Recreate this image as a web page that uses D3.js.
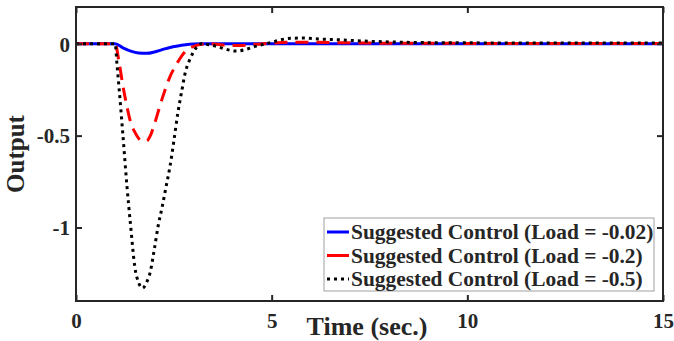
<!DOCTYPE html>
<html>
<head>
<meta charset="utf-8">
<script src="https://cdn.jsdelivr.net/npm/d3@7"></script>
<style>
  body { margin: 0; background: #fff; }
  svg text { font-family: "Liberation Serif", "Times New Roman", serif; font-weight: bold; fill: #262626; }
</style>
</head>
<body>
<div id="chart"></div>
<script>
// data
const tBlue = [0, 1.0, 1.2, 1.4, 1.6, 1.8, 2.0, 2.2, 2.4, 2.6, 2.8, 3.0, 3.2, 5, 10, 15];
const yBlue = [0, 0, -0.022, -0.04, -0.05, -0.052, -0.045, -0.032, -0.02, -0.012, -0.006, -0.002, 0, 0, 0, 0];

const tRed = [0, 1.0, 1.1, 1.2, 1.3, 1.4, 1.5, 1.6, 1.7, 1.8, 1.9, 2.0, 2.2, 2.4, 2.6, 2.8, 3.0, 3.2, 3.4, 3.6, 3.8, 4.0, 4.2, 4.4, 4.6, 4.8, 5.0, 5.5, 6.0, 7, 8, 10, 15];
const yRed = [0, 0, -0.1, -0.23, -0.34, -0.43, -0.48, -0.515, -0.53, -0.53, -0.5, -0.44, -0.3, -0.18, -0.1, -0.04, -0.015, -0.003, 0, -0.003, -0.008, -0.01, -0.01, -0.007, -0.003, 0, 0.003, 0.008, 0.008, 0.005, 0.003, 0.002, 0.001];

const tBlack = [0, 1.0, 1.05, 1.1, 1.2, 1.3, 1.4, 1.5, 1.6, 1.7, 1.8, 1.9, 2.0, 2.1, 2.2, 2.3, 2.4, 2.5, 2.6, 2.7, 2.8, 2.9, 3.0, 3.1, 3.2, 3.4, 3.6, 3.8, 4.1, 4.4, 4.6, 4.8, 5.0, 5.2, 5.5, 5.8, 6.2, 6.7, 7.2, 8, 9, 10, 12, 15];
const yBlack = [0, 0, -0.12, -0.24, -0.5, -0.77, -1.0, -1.21, -1.3, -1.33, -1.3, -1.24, -1.12, -0.99, -0.89, -0.78, -0.67, -0.53, -0.38, -0.26, -0.15, -0.09, -0.045, -0.015, 0, -0.005, -0.015, -0.028, -0.04, -0.027, -0.013, -0.003, 0.008, 0.02, 0.03, 0.031, 0.026, 0.022, 0.016, 0.01, 0.006, 0.005, 0.004, 0.004];

const xTicks = [0, 5, 10, 15];
const yTicks = [0, -0.5, -1];
const legendLabels = [
  "Suggested Control (Load = -0.02)",
  "Suggested Control (Load = -0.2)",
  "Suggested Control (Load = -0.5)"
];

const W = 674, H = 341;
const plot = { left: 76, right: 663, top: 7, bottom: 301 };
const axisColor = "#262626";

const svg = d3.select("#chart").append("svg")
  .attr("width", W)
  .attr("height", H);

const x = d3.scaleLinear().domain([0, 15]).range([plot.left, plot.right]);
const y = d3.scaleLinear().domain([-1.4, 0.2]).range([plot.bottom, plot.top]);

svg.append("clipPath").attr("id", "clip")
  .append("rect")
  .attr("x", plot.left).attr("y", plot.top)
  .attr("width", plot.right - plot.left).attr("height", plot.bottom - plot.top);

const line = d3.line()
  .x(d => x(d[0]))
  .y(d => y(d[1]))
  .curve(d3.curveMonotoneX);

const series = [
  { t: tBlue, v: yBlue, color: "#0000ff", dash: null },
  { t: tRed, v: yRed, color: "#ff0000", dash: "13,8" },
  { t: tBlack, v: yBlack, color: "#000000", dash: "3,4" }
];

const lines = svg.append("g").attr("clip-path", "url(#clip)");
series.forEach(s => {
  lines.append("path")
    .datum(s.t.map((t, i) => [t, s.v[i]]))
    .attr("fill", "none")
    .attr("stroke", s.color)
    .attr("stroke-width", 3)
    .attr("stroke-dasharray", s.dash)
    .attr("d", line);
});

// axes (box with inward ticks)
const tickLen = 6;
svg.append("g")
  .attr("transform", `translate(0,${plot.bottom})`)
  .call(d3.axisBottom(x).tickValues(xTicks).tickSizeInner(-tickLen).tickSizeOuter(0).tickFormat(d3.format("d")))
  .call(g => g.select(".domain").remove())
  .call(g => g.selectAll("line").attr("stroke", axisColor).attr("stroke-width", 2))
  .call(g => g.selectAll("text").attr("y", 27).attr("dy", 0).style("font-size", "21px").attr("fill", axisColor));

svg.append("g")
  .attr("transform", `translate(0,${plot.top})`)
  .call(d3.axisTop(x).tickValues(xTicks).tickSizeInner(-tickLen).tickSizeOuter(0).tickFormat(""))
  .call(g => g.select(".domain").remove())
  .call(g => g.selectAll("line").attr("stroke", axisColor).attr("stroke-width", 2));

svg.append("g")
  .attr("transform", `translate(${plot.left},0)`)
  .call(d3.axisLeft(y).tickValues(yTicks).tickSizeInner(-tickLen).tickSizeOuter(0).tickFormat(d => d === 0 ? "0" : String(d)))
  .call(g => g.select(".domain").remove())
  .call(g => g.selectAll("line").attr("stroke", axisColor).attr("stroke-width", 2))
  .call(g => g.selectAll("text").attr("x", -6).attr("dy", "0.35em").style("font-size", "21px").attr("fill", axisColor));

svg.append("g")
  .attr("transform", `translate(${plot.right},0)`)
  .call(d3.axisRight(y).tickValues(yTicks).tickSizeInner(-tickLen).tickSizeOuter(0).tickFormat(""))
  .call(g => g.select(".domain").remove())
  .call(g => g.selectAll("line").attr("stroke", axisColor).attr("stroke-width", 2));

svg.append("rect")
  .attr("x", plot.left).attr("y", plot.top)
  .attr("width", plot.right - plot.left).attr("height", plot.bottom - plot.top)
  .attr("fill", "none")
  .attr("stroke", axisColor)
  .attr("stroke-width", 2);

// axis titles
svg.append("text")
  .attr("x", 367).attr("y", 335)
  .attr("text-anchor", "middle")
  .style("font-size", "26px")
  .text("Time (sec.)");

svg.append("text")
  .attr("transform", "translate(24,154) rotate(-90)")
  .attr("text-anchor", "middle")
  .style("font-size", "25px")
  .text("Output");

// legend
const legend = svg.append("g");
legend.append("rect")
  .attr("x", 324).attr("y", 218)
  .attr("width", 330).attr("height", 73)
  .attr("fill", "#fff")
  .attr("stroke", "#a0a0a0")
  .attr("stroke-width", 1);

series.forEach((s, i) => {
  const ly = 232 + i * 23.5;
  legend.append("line")
    .attr("x1", 327).attr("x2", 349)
    .attr("y1", ly).attr("y2", ly)
    .attr("stroke", s.color)
    .attr("stroke-width", 3)
    .attr("stroke-dasharray", i === 2 ? "3,4" : null);
  legend.append("text")
    .attr("x", 351).attr("y", ly)
    .attr("dy", "0.35em")
    .style("font-size", "21.4px")
    .text(legendLabels[i]);
});
</script>
</body>
</html>
